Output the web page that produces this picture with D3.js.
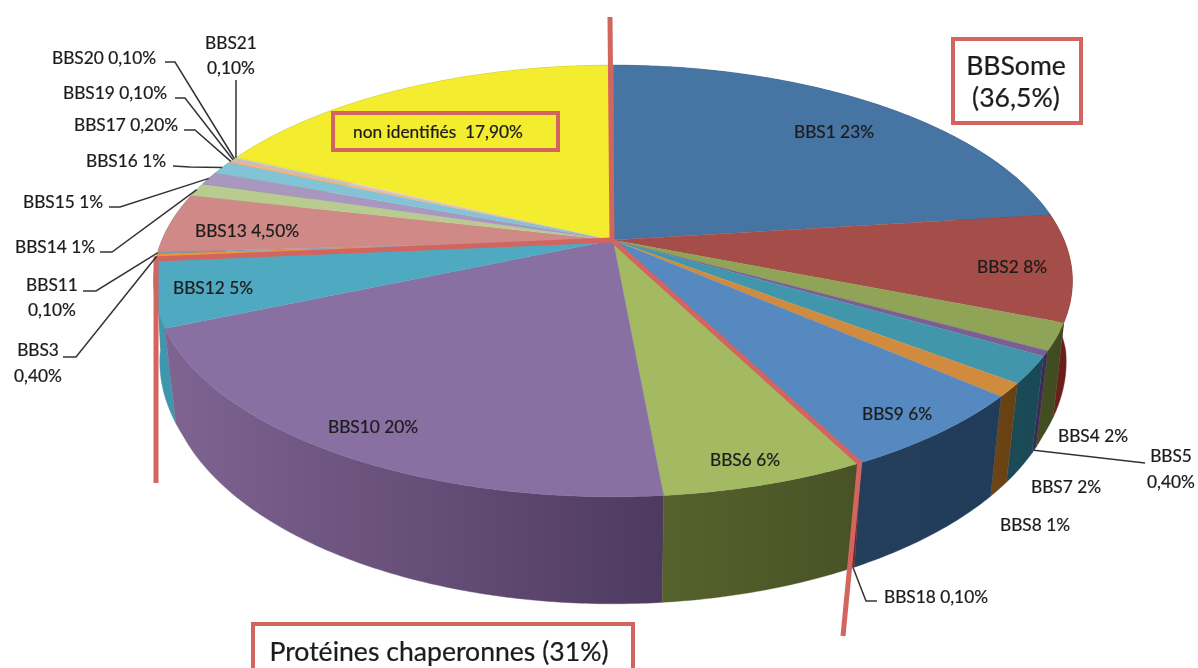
<!DOCTYPE html>
<html><head><meta charset="utf-8">
<script src="https://cdn.jsdelivr.net/npm/d3@7/dist/d3.min.js"></script>
<style>
html,body{margin:0;padding:0;background:#fff;overflow:hidden}
svg{display:block;filter:blur(.45px)}
text{font-family:Lato,"Open Sans",sans-serif;fill:#1c1c1c;stroke:#1c1c1c;stroke-width:.22px;white-space:pre}
</style></head><body>
<svg id="c" width="1198" height="668"></svg>
<script>
// ---- data ----
const names  = ["BBS1","BBS2","BBS4","BBS5","BBS7","BBS8","BBS9","BBS18","BBS6","BBS10","BBS12","BBS3","BBS11","BBS13","BBS14","BBS15","BBS16","BBS17","BBS19","BBS20","BBS21","non identifiés"];
const values = [23,8,2,0.4,2,1,6,0.1,6,20,5,0.4,0.1,4.5,1,1,1,0.2,0.1,0.1,0.1,17.9];
// ---- style ----
const topColors  = ["#4674a3","#a54e49","#8fa457","#7b5f94","#4296ab","#d18b3f","#5589bf","#a85050","#a3b962","#8870a2","#4fa9c0","#e9963c","#7a9ab8","#cf8a88","#b7cc8e","#a897bf","#83c3d6","#f4b183","#c9c9c9","#c9b8d8","#d8d8b8","#f3ec2f"];
const wallLeft   = ["#2c4a68","#6b1f1c","#434f22","#3d2a55","#1c4b58","#6e4516","#233f5c","#6b2a2a","#56622c","#7f6492","#3f97ad","#a86a25","#5a7590","#8f5a58","#78885a","#6c5f80","#4d8496","#a87a55","#888","#888","#888","#a8a31c"];
const wallRight  = ["#2c4a68","#6b1f1c","#3f4a20","#3d2a55","#1a4855","#654013","#213c58","#6b2a2a","#485226","#4e3a60","#3f97ad","#a86a25","#5a7590","#8f5a58","#78885a","#6c5f80","#4d8496","#a87a55","#888","#888","#888","#a8a31c"];
// ---- text placement ----
const labelSize=17.3, titleSize=26.6;
const sliceLabels = [
 ["BBS1 23%",834,132],["BBS2 8%",1012,267],["BBS9 6%",897,414],["BBS6 6%",745,460],
 ["BBS10 20%",373,427],["BBS12 5%",213,288],["BBS13 4,50%",247,231],["BBS4 2%",1093,436],
 ["BBS7 2%",1066,487],["BBS8 1%",1035,525]];
const calloutLayout = [
 {name:"BBS21", lines:["BBS21","0,10%"], x:231, y:[43,68],  elbow:[[236,80]]},
 {name:"BBS20", lines:["BBS20 0,10%"],  x:104, y:[58],      elbow:[[165,62],[175,62]]},
 {name:"BBS19", lines:["BBS19 0,10%"],  x:115, y:[93],      elbow:[[175,98],[185,98]]},
 {name:"BBS17", lines:["BBS17 0,20%"],  x:126, y:[125],     elbow:[[184,130],[195,130]]},
 {name:"BBS16", lines:["BBS16 1%"],     x:126, y:[161],     elbow:[[173,166],[190,167]]},
 {name:"BBS15", lines:["BBS15 1%"],     x:63,  y:[202],     elbow:[[109,207],[120,207]]},
 {name:"BBS14", lines:["BBS14 1%"],     x:55,  y:[247],     elbow:[[100,252],[112,252]]},
 {name:"BBS11", lines:["BBS11","0,10%"],x:52,  y:[285,310], elbow:[[83,291],[96,291]]},
 {name:"BBS3",  lines:["BBS3","0,40%"], x:38,  y:[350,376], elbow:[[63,357],[76,357]]},
 {name:"BBS5",  lines:["BBS5","0,40%"], x:1171,y:[456,482], elbow:[[1145,463]], low:true},
 {name:"BBS18", lines:["BBS18 0,10%"],  x:936, y:[597],     elbow:[[877,601],[866,601]], low:true}
];
const red = "#d2655f";

// ---- projection of the pie's disc ----
const cx=613, cy=240, persp=0.19;
const sx=d3.scaleLinear([-1,1],[-451,451]);
const sy=d3.scaleLinear([-1,1],[-208,208]);
const project=(a,r=1)=>{const X=Math.sin(a)*r,Y=-Math.cos(a)*r,w=1-persp*Y;return [cx+sx(X)/w,cy+sy(Y)/w];};
const shrink=d3.scaleLinear([260,340],[.99,.973]).clamp(true);
const depth =d3.scaleLinear([330,497],[95,107]);
const lower=([x,y])=>[cx+(x-cx)*shrink(y),y+depth(y)];

const arcs=d3.pie().sort(null).value(d=>d).startAngle(0).endAngle(2*Math.PI)(values);
const byName=Object.fromEntries(names.map((n,i)=>[n,arcs[i]]));
const samples=d=>{const n=Math.max(2,Math.ceil((d.endAngle-d.startAngle)/0.01));
  return d3.range(n+1).map(i=>d.startAngle+(d.endAngle-d.startAngle)*i/n);};
const line=d3.line();
const svg=d3.select("#c");
const defs=svg.append("defs");
const mid=d=>(d.startAngle+d.endAngle)/2;

// walls, back to front
const order=arcs.map((d,i)=>({d,i})).sort((a,b)=>project(mid(a.d))[1]-project(mid(b.d))[1]);
order.forEach(({d,i})=>{
  const rim=samples(d).map(a=>project(a));
  const bot=rim.map(lower);
  const xs=rim.concat(bot).map(p=>p[0]);
  const g=defs.append("linearGradient").attr("id","w"+i).attr("gradientUnits","userSpaceOnUse")
    .attr("x1",d3.min(xs)).attr("x2",d3.max(xs)).attr("y1",0).attr("y2",0);
  g.append("stop").attr("offset",0).attr("stop-color",wallLeft[i]);
  g.append("stop").attr("offset",1).attr("stop-color",wallRight[i]);
  svg.append("path").attr("d",line(rim.concat(bot.reverse()))+"Z")
    .attr("fill",`url(#w${i})`).attr("stroke",`url(#w${i})`).attr("stroke-width",.4);
});
// top faces
arcs.forEach((d,i)=>{
  const pts=[[cx,cy],...samples(d).map(a=>project(a))];
  svg.append("path").attr("d",line(pts)+"Z").attr("fill",topColors[i]).attr("stroke",topColors[i]).attr("stroke-width",.3);
});
// red separators
const a18=project(mid(byName.BBS18)), a12=project(byName.BBS12.endAngle);
svg.append("path").attr("d",line([[610,17],[612,240],a18,[843,636]])).attr("fill","none").attr("stroke",red).attr("stroke-width",5);
svg.append("path").attr("d",line([[612,240],a12,[156,483]])).attr("fill","none").attr("stroke",red).attr("stroke-width",5);

// leader lines and their labels
calloutLayout.forEach(c=>{
  const d=byName[c.name], p=project(mid(d));
  const end=c.low?lower(p):p;
  svg.append("path").attr("d",line([...c.elbow,end])).attr("fill","none").attr("stroke","#333").attr("stroke-width",1.5);
  c.lines.forEach((t,k)=>svg.append("text").attr("x",c.x).attr("y",c.y[k]).attr("dy",".35em").attr("text-anchor","middle").attr("font-size",labelSize).text(t));
});
sliceLabels.forEach(([t,x,y])=>svg.append("text").attr("x",x).attr("y",y).attr("dy",".35em").attr("text-anchor","middle").attr("font-size",labelSize).text(t));

// boxes
const box=(x,y,w,h,sw)=>svg.append("rect").attr("x",x).attr("y",y).attr("width",w).attr("height",h).attr("fill","none").attr("stroke",red).attr("stroke-width",sw);
box(333,113,225,37,4);
svg.append("text").attr("x",438).attr("y",132).attr("dy",".35em").attr("text-anchor","middle").attr("font-size",labelSize).text("non identifiés  17,90%");
box(953,39,128,84,4);
svg.append("text").attr("x",1016).attr("y",66).attr("dy",".35em").attr("text-anchor","middle").attr("font-size",titleSize).text("BBSome");
svg.append("text").attr("x",1016).attr("y",98).attr("dy",".35em").attr("text-anchor","middle").attr("font-size",titleSize).text("(36,5%)");
box(253,624,380,60,4);
svg.append("text").attr("x",439).attr("y",652).attr("dy",".35em").attr("text-anchor","middle").attr("font-size",titleSize).text("Protéines chaperonnes (31%)");
</script>
</body></html>
